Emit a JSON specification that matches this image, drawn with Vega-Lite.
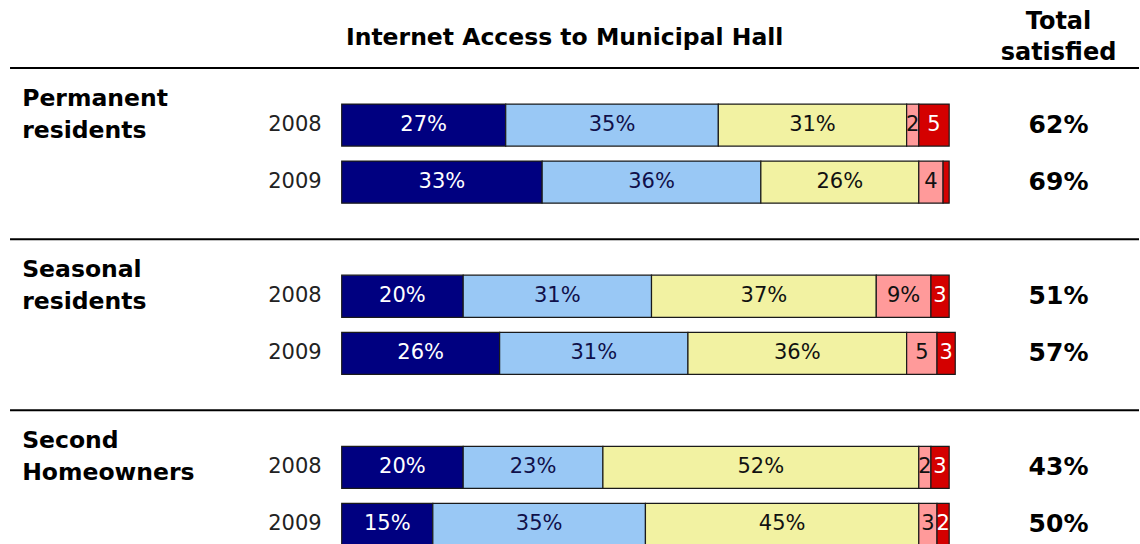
{
  "$schema": "https://vega.github.io/schema/vega-lite/v6.json",
  "width": 1140,
  "height": 544,
  "padding": 0,
  "autosize": {"type": "fit", "contains": "padding"},
  "background": "white",
  "config": {"view": {"stroke": null}},
  "datasets": {
    "seg": [
      {"row": "P08", "k": 1, "value": 27, "label": "27%"},
      {"row": "P08", "k": 2, "value": 35, "label": "35%"},
      {"row": "P08", "k": 3, "value": 31, "label": "31%"},
      {"row": "P08", "k": 4, "value": 2, "label": "2"},
      {"row": "P08", "k": 5, "value": 5, "label": "5"},
      {"row": "P09", "k": 1, "value": 33, "label": "33%"},
      {"row": "P09", "k": 2, "value": 36, "label": "36%"},
      {"row": "P09", "k": 3, "value": 26, "label": "26%"},
      {"row": "P09", "k": 4, "value": 4, "label": "4"},
      {"row": "P09", "k": 5, "value": 1, "label": ""},
      {"row": "S08", "k": 1, "value": 20, "label": "20%"},
      {"row": "S08", "k": 2, "value": 31, "label": "31%"},
      {"row": "S08", "k": 3, "value": 37, "label": "37%"},
      {"row": "S08", "k": 4, "value": 9, "label": "9%"},
      {"row": "S08", "k": 5, "value": 3, "label": "3"},
      {"row": "S09", "k": 1, "value": 26, "label": "26%"},
      {"row": "S09", "k": 2, "value": 31, "label": "31%"},
      {"row": "S09", "k": 3, "value": 36, "label": "36%"},
      {"row": "S09", "k": 4, "value": 5, "label": "5"},
      {"row": "S09", "k": 5, "value": 3, "label": "3"},
      {"row": "H08", "k": 1, "value": 20, "label": "20%"},
      {"row": "H08", "k": 2, "value": 23, "label": "23%"},
      {"row": "H08", "k": 3, "value": 52, "label": "52%"},
      {"row": "H08", "k": 4, "value": 2, "label": "2"},
      {"row": "H08", "k": 5, "value": 3, "label": "3"},
      {"row": "H09", "k": 1, "value": 15, "label": "15%"},
      {"row": "H09", "k": 2, "value": 35, "label": "35%"},
      {"row": "H09", "k": 3, "value": 45, "label": "45%"},
      {"row": "H09", "k": 4, "value": 3, "label": "3"},
      {"row": "H09", "k": 5, "value": 2, "label": "2"}
    ],
    "rows": [
      {"row": "P08", "year": "2008", "total": "62%"},
      {"row": "P09", "year": "2009", "total": "69%"},
      {"row": "S08", "year": "2008", "total": "51%"},
      {"row": "S09", "year": "2009", "total": "57%"},
      {"row": "H08", "year": "2008", "total": "43%"},
      {"row": "H09", "year": "2009", "total": "50%"}
    ],
    "groups": [
      {"row": "P08", "name": ["Permanent", "residents"]},
      {"row": "S08", "name": ["Seasonal", "residents"]},
      {"row": "H08", "name": ["Second", "Homeowners"]}
    ],
    "seps": [{"row": "top"}, {"row": "g1"}, {"row": "g2"}]
  },
  "resolve": {"scale": {"color": "independent"}},
  "layer": [
    {
      "data": {"name": "seps"},
      "mark": {"type": "rule", "color": "black", "strokeWidth": 2},
      "encoding": {
        "y": {"field": "row", "type": "ordinal", "axis": null,
              "scale": {"domain": ["top", "P08", "P09", "g1", "S08", "S09", "g2", "H08", "H09"], "range": [47, 545.5], "paddingInner": 0.263, "paddingOuter": 0, "align": 0.5}},
        "x": {"datum": -54.6, "type": "quantitative", "axis": null, "scale": {"domain": [-56.25, 131.25], "nice": false, "zero": false}},
        "x2": {"datum": 131.25}
      }
    },
    {
      "data": {"name": "seg"},
      "mark": {"type": "bar", "stroke": "#1a1a1a", "strokeWidth": 1.2},
      "encoding": {
        "y": {"field": "row", "type": "ordinal", "axis": null},
        "x": {"field": "value", "type": "quantitative", "stack": "zero", "axis": null},
        "order": {"field": "k", "type": "quantitative"},
        "color": {"field": "k", "type": "ordinal", "legend": null,
                  "scale": {"domain": [1, 2, 3, 4, 5], "range": ["#000080", "#99c8f5", "#f2f2a2", "#ff9a9a", "#d40000"]}}
      }
    },
    {
      "data": {"name": "seg"},
      "transform": [
        {"stack": "value", "groupby": ["row"], "sort": [{"field": "k", "order": "ascending"}], "as": ["x0", "x1"]},
        {"calculate": "(datum.x0 + datum.x1) / 2", "as": "xm"}
      ],
      "mark": {"type": "text", "font": "DejaVu Sans", "fontSize": 21, "align": "center", "baseline": "middle"},
      "encoding": {
        "y": {"field": "row", "type": "ordinal", "axis": null},
        "x": {"field": "xm", "type": "quantitative", "axis": null},
        "text": {"field": "label"},
        "color": {"field": "k", "type": "ordinal", "legend": null,
                  "scale": {"domain": [1, 2, 3, 4, 5], "range": ["#ffffff", "#10104a", "#111111", "#111111", "#ffffff"]}}
      }
    },
    {
      "data": {"name": "rows"},
      "mark": {"type": "text", "font": "DejaVu Sans", "fontSize": 21, "align": "right", "baseline": "middle", "color": "#222222"},
      "encoding": {
        "y": {"field": "row", "type": "ordinal", "axis": null},
        "x": {"datum": -3.3, "type": "quantitative"},
        "text": {"field": "year"}
      }
    },
    {
      "data": {"name": "rows"},
      "mark": {"type": "text", "font": "DejaVu Sans", "fontWeight": "bold", "fontSize": 25, "align": "center", "baseline": "middle", "color": "#000000"},
      "encoding": {
        "y": {"field": "row", "type": "ordinal", "axis": null},
        "x": {"datum": 118, "type": "quantitative"},
        "text": {"field": "total"}
      }
    },
    {
      "data": {"name": "groups"},
      "mark": {"type": "text", "font": "DejaVu Sans", "fontWeight": "bold", "fontSize": 23.5, "align": "left", "baseline": "middle", "lineHeight": 32, "dy": -26, "color": "#000000"},
      "encoding": {
        "y": {"field": "row", "type": "ordinal", "axis": null},
        "x": {"datum": -52.6, "type": "quantitative"},
        "text": {"field": "name"}
      }
    },
    {
      "data": {"values": [{"t": "Internet Access to Municipal Hall"}]},
      "mark": {"type": "text", "font": "DejaVu Sans", "fontWeight": "bold", "fontSize": 23.5, "align": "center", "baseline": "middle", "dy": -30, "color": "#000000"},
      "encoding": {
        "y": {"datum": "top", "type": "ordinal"},
        "x": {"datum": 36.7, "type": "quantitative"},
        "text": {"field": "t"}
      }
    },
    {
      "data": {"values": [{"t": ["Total", "satisfied"]}]},
      "mark": {"type": "text", "font": "DejaVu Sans", "fontWeight": "bold", "fontSize": 24, "align": "center", "baseline": "middle", "lineHeight": 31, "dy": -46, "color": "#000000"},
      "encoding": {
        "y": {"datum": "top", "type": "ordinal"},
        "x": {"datum": 118, "type": "quantitative"},
        "text": {"field": "t"}
      }
    }
  ]
}
